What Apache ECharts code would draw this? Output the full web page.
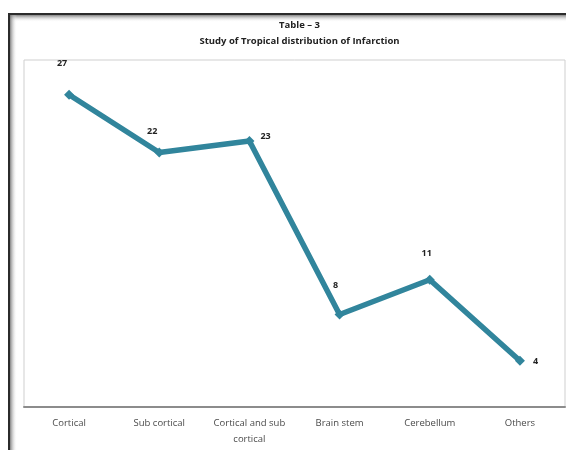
<!DOCTYPE html>
<html>
<head>
<meta charset="utf-8">
<script src="https://cdn.jsdelivr.net/npm/echarts@6/dist/echarts.min.js"></script>
<style>
  html, body { margin: 0; padding: 0; background: #ffffff; }
  #chart { width: 566px; height: 450px; }
</style>
</head>
<body>
<div id="chart"></div>
<script>
// Infarction sites and case counts
const categories = ['Cortical', 'Sub cortical', 'Cortical and sub\ncortical', 'Brain stem', 'Cerebellum', 'Others'];
const cases = [27, 22, 23, 8, 11, 4];
// label placement for each point: side and pixel nudge
const labelSide = ['top', 'top', 'right', 'top', 'top', 'right'];
const labelNudge = [[-7, -17], [-7, -7], [1, -5], [-4, -15], [-3, -12], [3, 1]];

const chart = echarts.init(document.getElementById('chart'), null, { renderer: 'canvas' });

const seriesData = cases.map((v, i) => ({
  value: v,
  label: { position: labelSide[i], offset: labelNudge[i] }
}));

chart.setOption({
  backgroundColor: '#ffffff',
  animation: false,
  graphic: [
    // framed panel with soft inner shadow along top and left
    { type: 'rect', shape: { x: 9, y: 14, width: 600, height: 500 },
      style: { fill: '#ffffff', stroke: '#2b2b2b', lineWidth: 2 }, z: -10 },
    { type: 'rect', shape: { x: 10, y: 15, width: 600, height: 7 },
      style: { fill: new echarts.graphic.LinearGradient(0, 0, 0, 1, [
        { offset: 0, color: 'rgba(110,110,110,0.85)' },
        { offset: 1, color: 'rgba(255,255,255,0)' }]) }, z: -9 },
    { type: 'rect', shape: { x: 10, y: 15, width: 7, height: 500 },
      style: { fill: new echarts.graphic.LinearGradient(0, 0, 1, 0, [
        { offset: 0, color: 'rgba(110,110,110,0.85)' },
        { offset: 1, color: 'rgba(255,255,255,0)' }]) }, z: -9 }
  ],
  title: {
    text: 'Table – 3\nStudy of Tropical distribution of Infarction',
    left: 294.5,
    textAlign: 'center',
    top: 12,
    textStyle: {
      fontFamily: 'Open Sans',
      fontSize: 9.5,
      fontWeight: 'bold',
      color: '#222',
      lineHeight: 16
    }
  },
  grid: {
    left: 24, right: 1, top: 60, bottom: 43,
    show: true,
    borderColor: '#cfcfcf',
    borderWidth: 1,
    backgroundColor: '#ffffff'
  },
  xAxis: {
    type: 'category',
    data: categories,
    boundaryGap: true,
    axisLine: { show: true, lineStyle: { color: '#8c8c8c', width: 2 } },
    axisTick: { show: false },
    axisLabel: {
      interval: 0,
      margin: 8,
      fontFamily: 'Open Sans',
      fontSize: 9.5,
      color: '#4a4a4a',
      lineHeight: 16
    }
  },
  yAxis: {
    type: 'value',
    min: 0,
    max: 30,
    interval: 5,
    show: false,
    splitLine: { show: false }
  },
  series: [{
    type: 'line',
    data: seriesData,
    symbol: 'diamond',
    symbolSize: 10,
    lineStyle: { color: '#31859c', width: 5.5 },
    itemStyle: { color: '#31859c' },
    label: {
      show: true,
      fontFamily: 'Open Sans',
      fontSize: 9,
      fontWeight: 'bold',
      color: '#222'
    }
  }]
});
</script>
</body>
</html>
